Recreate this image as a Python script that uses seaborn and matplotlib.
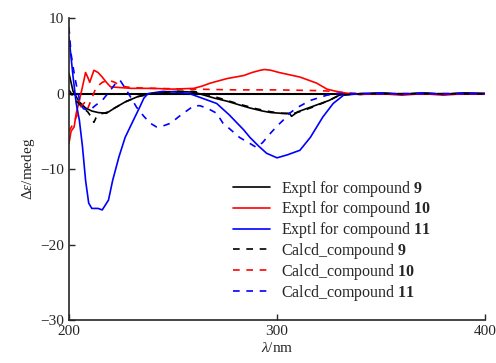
import matplotlib
matplotlib.use("Agg")
import matplotlib.pyplot as plt
import seaborn as sns

# ----------------------------------------------------------
# DATA
# ----------------------------------------------------------

x_exp9 = [200, 202, 205, 208, 211, 214, 218, 222, 227, 233, 239, 245, 252, 260, 265,
          270, 276, 282, 287, 293, 297, 302, 306, 307, 310, 316, 320, 325, 330, 335,
          340, 350, 360, 370, 380, 390, 400]
y_exp9 = [2.7, 0.3, -1.1, -1.9, -2.3, -2.5, -2.6, -1.9, -1.1, -0.4, 0.0, 0.2, 0.3, 0.2, -0.2,
          -0.6, -1.0, -1.5, -1.9, -2.3, -2.5, -2.6, -2.6, -3.0, -2.4, -1.8, -1.4, -0.9, -0.2, 0.0,
          -0.1, 0.1, -0.1, 0.1, -0.1, 0.1, 0.0]

x_exp10 = [200, 201, 202.5, 203.5, 205, 206.5, 208, 209, 210, 212, 214, 216, 218, 220, 225,
           230, 240, 250, 260, 264, 268, 272, 276, 280, 284, 288, 292, 294, 297, 301,
           306, 311, 315, 319, 324, 330, 335, 340, 350, 360, 370, 380, 390, 400]
y_exp10 = [-6.6, -5.0, -4.4, -2.6, -0.9, 0.9, 2.8, 2.2, 1.5, 3.1, 2.8, 2.2, 1.5, 0.9, 0.8,
           0.7, 0.7, 0.6, 0.7, 1.0, 1.4, 1.7, 2.0, 2.2, 2.4, 2.8, 3.1, 3.2, 3.1, 2.8,
           2.5, 2.2, 1.8, 1.4, 0.6, 0.2, 0.0, -0.1, 0.0, -0.2, 0.0, -0.2, 0.0, 0.0]

x_exp11 = [200, 202, 203.5, 205, 206.5, 208, 209.5, 211, 214, 216, 219, 221, 224, 227, 231,
           234, 236, 238, 245, 252, 258, 264, 271, 277, 284, 287, 291, 295, 300, 305,
           311, 316, 322, 327, 332, 340, 350, 360, 370, 380, 390, 400]
y_exp11 = [7.5, 2.2, -1.3, -3.5, -7.0, -11.5, -14.5, -15.2, -15.2, -15.4, -14.1, -11.5, -8.4, -5.8, -3.5,
           -1.8, -0.6, 0.0, 0.3, 0.2, 0.0, -0.6, -1.3, -2.8, -4.8, -5.8, -6.9, -7.9, -8.5, -8.1,
           -7.5, -5.8, -3.1, -1.3, -0.2, 0.0, 0.1, -0.1, 0.1, -0.1, 0.1, 0.0]

x_calc9 = [200, 203, 206, 209, 211, 212, 213, 215, 218, 222, 227, 233, 240, 250, 260,
           265, 270, 276, 282, 290, 297, 302, 307, 312, 318, 325, 330, 340, 400]
y_calc9 = [0.5, -0.8, -1.7, -2.4, -3.2, -3.8, -3.2, -2.7, -2.5, -1.9, -1.1, -0.4, 0.0, 0.3, 0.3,
           0.0, -0.4, -0.9, -1.4, -2.0, -2.4, -2.6, -2.7, -2.3, -1.7, -0.9, -0.2, 0.0, 0.0]

x_calc10 = [200, 202, 204, 206, 207.5, 209, 211, 213, 216, 219, 222, 225, 230, 240, 260,
            280, 300, 320, 328, 333, 340, 400]
y_calc10 = [-5.0, -4.0, -2.8, -1.6, -1.2, -2.0, -0.6, 0.8, 1.5, 1.8, 1.5, 1.0, 0.8, 0.7, 0.6,
            0.5, 0.5, 0.4, 0.3, 0.1, 0.0, 0.0]

x_calc11 = [200, 201, 202.5, 204, 205.5, 207, 210, 213, 216, 219.5, 222, 224.5, 228, 232.5, 236,
            239, 242, 245, 249, 253, 257, 260, 263, 267, 271, 274, 277, 282, 287, 290,
            293, 297, 300, 303, 306, 310, 316, 324, 330, 340, 400]
y_calc11 = [8.8, 5.3, 2.7, 0.5, -1.3, -2.0, -2.2, -1.5, -0.9, 0.3, 1.2, 1.8, 0.3, -1.8, -3.0,
            -3.9, -4.4, -4.3, -3.9, -3.0, -2.2, -1.6, -1.6, -2.0, -2.6, -3.9, -4.6, -5.8, -6.6, -7.1,
            -6.5, -5.2, -4.3, -3.5, -2.6, -1.8, -0.9, -0.2, 0.0, 0.0, 0.0]

labels = [
    r"Exptl for compound $\mathbf{9}$",
    r"Exptl for compound $\mathbf{10}$",
    r"Exptl for compound $\mathbf{11}$",
    r"Calcd_compound $\mathbf{9}$",
    r"Calcd_compound $\mathbf{10}$",
    r"Calcd_compound $\mathbf{11}$",
]

# ----------------------------------------------------------
# STYLE
# ----------------------------------------------------------

sns.set_style("ticks")
plt.rcParams["font.family"] = ["Liberation Serif", "DejaVu Serif"]
plt.rcParams["mathtext.fontset"] = "custom"
plt.rcParams["mathtext.rm"] = "Liberation Serif"
plt.rcParams["mathtext.it"] = "Liberation Serif:italic"
plt.rcParams["mathtext.bf"] = "Liberation Serif:bold"
plt.rcParams["axes.unicode_minus"] = True

fig = plt.figure(figsize=(4.96, 3.63), dpi=100)
ax = fig.add_axes([0.139, 0.118, 0.839, 0.832])

ax.axhline(0, color="black", lw=1.5, zorder=1)

dash = (0, (4, 4))
series = [
    (x_exp9, y_exp9, "black", "-"),
    (x_exp10, y_exp10, "red", "-"),
    (x_exp11, y_exp11, "blue", "-"),
    (x_calc9, y_calc9, "black", dash),
    (x_calc10, y_calc10, "red", dash),
    (x_calc11, y_calc11, "blue", dash),
]
for (xs, ys, c, ls), lab in zip(series, labels):
    sns.lineplot(x=xs, y=ys, ax=ax, color=c, linestyle=ls, lw=1.2, label=lab)

ax.set_xlim(200, 400)
ax.set_ylim(-30, 10)
ax.set_xticks([200, 300, 400])
ax.set_yticks([-30, -20, -10, 0, 10])
ax.tick_params(direction="in", labelsize=11, length=4, width=1)
for s in ["left", "bottom"]:
    ax.spines[s].set_linewidth(1.2)
sns.despine(ax=ax)

ax.set_xlabel(r"$\mathit{λ}$/nm", fontsize=11, labelpad=2)
ax.set_ylabel(r"Δ$\mathit{ε}$/medeg", fontsize=11, labelpad=2)

ax.legend(loc="upper left", bbox_to_anchor=(0.38, 0.49), frameon=False,
          fontsize=11.5, handlelength=2.3, handletextpad=0.7, labelspacing=0.05,
          borderaxespad=0)

fig.savefig("out.png", dpi=100)
